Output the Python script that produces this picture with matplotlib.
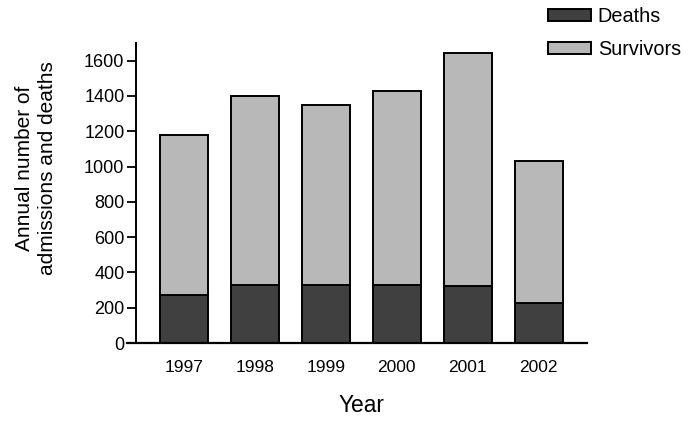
import matplotlib.pyplot as plt
import numpy as np

plt.rcParams['font.family'] = ['Liberation Sans', 'DejaVu Sans']

years = ['1997', '1998', '1999', '2000', '2001', '2002']
deaths = [274, 326, 326, 326, 323, 227]
survivors = [902, 1074, 1020, 1103, 1318, 806]

fig = plt.figure(figsize=(6.96, 4.21), dpi=100)
ax = fig.add_axes([127 / 696, 1 - 343 / 421, (587 - 127) / 696, 300 / 421])

x = np.arange(len(years))
w = 0.67
b1 = ax.bar(x, deaths, w, color='#404040', edgecolor='black', linewidth=1.4, label='Deaths')
b2 = ax.bar(x, survivors, w, bottom=deaths, color='#b8b8b8', edgecolor='black',
            linewidth=1.4, label='Survivors')

ax.set_xlim(-0.8, 5.68)
ax.set_ylim(0, 1700)
ax.set_xticks(x)
ax.set_xticklabels(years)
ax.set_yticks(range(0, 1601, 200))
ax.tick_params(axis='x', length=0, pad=12, labelsize=12.5)
ax.tick_params(axis='y', length=6.5, width=1.3, pad=2, labelsize=13)

ax.spines['top'].set_visible(False)
ax.spines['right'].set_visible(False)
ax.spines['left'].set_position(('data', -0.67))
ax.spines['left'].set_linewidth(1.4)
ax.spines['bottom'].set_linewidth(1.6)

fig.text(361 / 696, 1 - 405 / 421, 'Year', ha='center', va='center', fontsize=16.4)
fig.text(36 / 696, 1 - 168 / 421, 'Annual number of\nadmissions and deaths', ha='center',
         va='center', rotation=90, fontsize=15, linespacing=1.25)

fig.legend(handles=[b1, b2], loc='upper left', bbox_to_anchor=(548 / 696, 1 - 7 / 421),
           frameon=False, fontsize=14.3, handlelength=2.15, handleheight=0.55,
           labelspacing=0.72, handletextpad=0.35, borderpad=0, borderaxespad=0)

fig.savefig('out.png', dpi=100)
